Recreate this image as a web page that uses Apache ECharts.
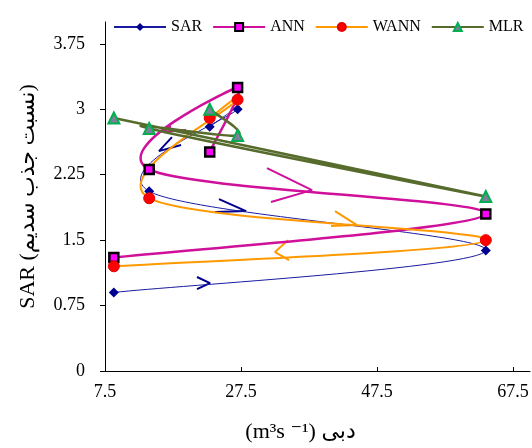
<!DOCTYPE html>
<html>
<head>
<meta charset="utf-8">
<script src="https://cdn.jsdelivr.net/npm/echarts@6/dist/echarts.min.js"></script>
<style>
  html, body { margin: 0; padding: 0; background: #fff; }
  #chart { width: 532px; height: 448px; }
</style>
</head>
<body>
<div id="chart"></div>
<script>
// flow (دبی) values, same for every series
const flow = [8.8, 63.5, 14, 27, 22.9];
const sarVals = [0.9, 1.38, 2.06, 3.0, 2.8];
const annVals = [1.3, 1.8, 2.31, 3.25, 2.51];
const wannVals = [1.2, 1.5, 1.98, 3.11, 2.9];
const mlrVals = [2.9, 2.0, 2.78, 2.7, 3.0];

const xTicks = [7.5, 27.5, 47.5, 67.5];
const yTicks = [0, 0.75, 1.5, 2.25, 3, 3.75];

// direction arrows: [arm, tip, arm]
const sarArrows = [
  [[24.26, 1.97], [28.24, 1.833], [23.68, 1.821]],
  [[21.03, 1.077], [22.94, 1.008], [21.03, 0.939]],
  [[17.35, 2.68], [15.44, 2.52], [18.68, 2.59]]
];
const annArrows = [
  [[31.32, 2.325], [37.94, 2.073], [31.91, 1.936]],
  [[17.21, 2.806], [16.03, 2.738], [19.41, 2.761]]
];
const wannArrows = [
  [[41.32, 1.833], [44.56, 1.672], [40.74, 1.661]],
  [[34.41, 1.5], [32.5, 1.363], [34.56, 1.271]]
];

const serif = "'Liberation Serif', 'Times New Roman', 'DejaVu Sans', serif";

function pairs(ys) {
  return flow.map((x, i) => [x, ys[i]]);
}

// excel-like smoothed line (catmull-rom bezier) through the points, in pixel space
function curveSeries(ys, color, width) {
  const data = pairs(ys);
  return {
    type: "custom",
    silent: true,
    data: data,
    z: 2,
    renderItem(params, api) {
      if (params.dataIndex !== 0) return;
      const p = data.map(d => api.coord(d));
      let path = "M" + p[0][0] + " " + p[0][1];
      for (let i = 0; i < p.length - 1; i++) {
        const p0 = p[i - 1] || p[i];
        const p1 = p[i];
        const p2 = p[i + 1];
        const p3 = p[i + 2] || p2;
        const c1x = p1[0] + (p2[0] - p0[0]) / 6;
        const c1y = p1[1] + (p2[1] - p0[1]) / 6;
        const c2x = p2[0] - (p3[0] - p1[0]) / 6;
        const c2y = p2[1] - (p3[1] - p1[1]) / 6;
        path += " C" + c1x + " " + c1y + " " + c2x + " " + c2y + " " + p2[0] + " " + p2[1];
      }
      return {
        type: "path",
        shape: { pathData: path },
        style: { fill: "none", stroke: color, lineWidth: width }
      };
    }
  };
}

function arrowSeries(list, color, width) {
  return list.map((a, i) => ({
    name: "arrow" + color + i,
    type: "line",
    data: a,
    symbol: "none",
    silent: true,
    lineStyle: { color: color, width: width },
    z: 1
  }));
}

function markerSeries(name, ys, symbol, size, color, width, itemStyle) {
  return {
    name: name,
    type: "line",
    data: pairs(ys),
    symbol: symbol,
    symbolSize: size,
    lineStyle: { color: color, width: width, opacity: 0 },
    itemStyle: itemStyle,
    z: 3
  };
}

let myChart = echarts.init(document.getElementById("chart"));
myChart.setOption({
  animation: false,
  grid: { left: 105, right: 2, top: 22, bottom: 77 },
  legend: {
    data: [
      { name: "SAR", lineStyle: { opacity: 1 } },
      { name: "ANN", lineStyle: { opacity: 1 } },
      { name: "WANN", lineStyle: { opacity: 1 } },
      { name: "MLR", lineStyle: { opacity: 1 } }
    ],
    left: 108,
    top: 14,
    itemWidth: 52,
    itemHeight: 10,
    itemGap: 10,
    textStyle: { fontFamily: serif, fontSize: 16, color: "#000" }
  },
  xAxis: {
    type: "value",
    min: 7.5,
    max: 70,
    name: "(m³s ⁻¹) دبی",
    nameLocation: "middle",
    nameGap: 50,
    nameTextStyle: { fontFamily: serif, fontSize: 22, color: "#000", padding: [0, 34, 0, 0] },
    axisLine: { lineStyle: { color: "#000", width: 1 } },
    axisTick: { show: true, inside: true, length: 4, customValues: xTicks, lineStyle: { color: "#000" } },
    axisLabel: { customValues: xTicks, margin: 12, fontFamily: serif, fontSize: 18, color: "#000" },
    splitLine: { show: false }
  },
  yAxis: {
    type: "value",
    min: 0,
    max: 4,
    name: "SAR (نسبت جذب سدیم)",
    nameLocation: "middle",
    nameGap: 66,
    nameTextStyle: { fontFamily: serif, fontSize: 22, color: "#000" },
    axisLine: { show: true, lineStyle: { color: "#000", width: 1 } },
    axisTick: { show: true, length: 5, customValues: yTicks, lineStyle: { color: "#000" } },
    axisLabel: { customValues: yTicks, margin: 20, fontFamily: serif, fontSize: 18, color: "#000" },
    splitLine: { show: false }
  },
  series: [
    curveSeries(sarVals, "#1a1aa0", 1),
    curveSeries(annVals, "#d0109a", 2.5),
    curveSeries(wannVals, "#ff9900", 2),
    curveSeries(mlrVals, "#566b2c", 2.5),
    markerSeries("SAR", sarVals, "diamond", 10, "#1a1aa0", 1, { color: "#000090" }),
    markerSeries("ANN", annVals, "rect", 9, "#d0109a", 2.5,
      { color: "#ff00ff", borderColor: "#000", borderWidth: 2.5 }),
    markerSeries("WANN", wannVals, "circle", 11, "#ff9900", 2,
      { color: "#ff0000", borderColor: "#e00000", borderWidth: 1 }),
    markerSeries("MLR", mlrVals, "triangle", 11, "#566b2c", 2.5,
      { color: "#7f7f99", borderColor: "#00b050", borderWidth: 2 })
  ]
    .concat(arrowSeries(sarArrows, "#000090", 2))
    .concat(arrowSeries(annArrows, "#d0109a", 2))
    .concat(arrowSeries(wannArrows, "#ff9900", 2))
});
</script>
</body>
</html>
